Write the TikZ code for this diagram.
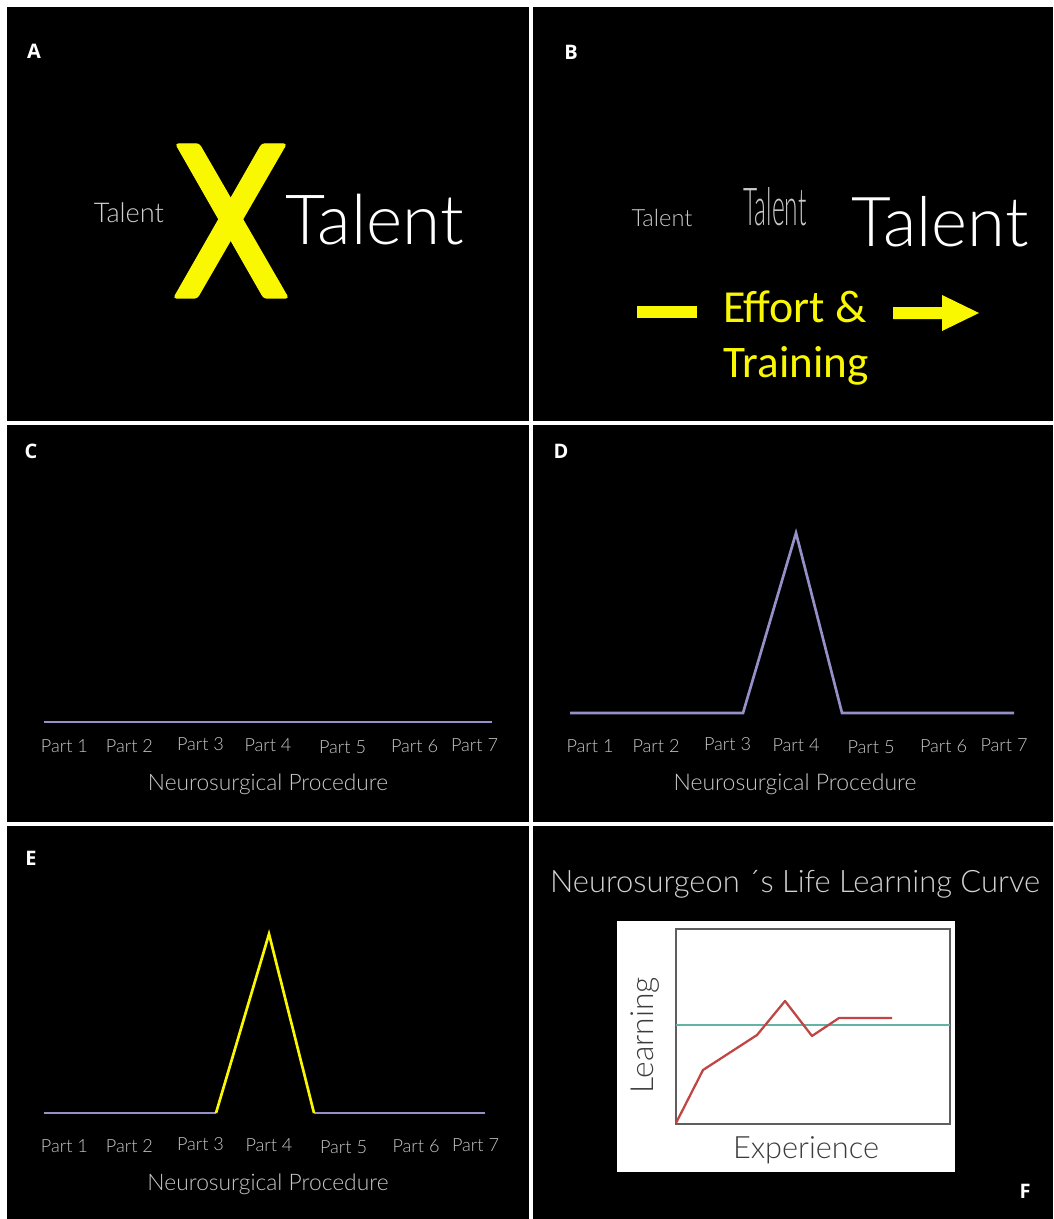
\documentclass[tikz,border=0pt]{standalone}
\usepackage{fontspec}
\usepackage{graphicx}
\setmainfont{Open Sans}
\newfontfamily\thinf{Lato Light}
\newfontfamily\calf{Carlito}
\newlength\pxu
\setlength\pxu{0.75pt}
\newcommand\fw[2]{\resizebox{#1\pxu}{!}{#2}}
\newcommand\fwh[3]{\resizebox{#1\pxu}{#2\pxu}{#3}}
\definecolor{lav}{RGB}{150,144,200}
\definecolor{yel}{RGB}{250,248,0}
\definecolor{partg}{RGB}{200,200,200}
\definecolor{titg}{RGB}{210,210,210}
\definecolor{redc}{RGB}{192,70,70}
\definecolor{tealc}{RGB}{100,180,165}
\definecolor{frameg}{RGB}{95,95,95}
\definecolor{axisg}{RGB}{60,60,60}
\tikzset{
  panelbg/.style={fill=black},
  lbl/.style={text=white, font=\fontsize{15}{17}\selectfont\bfseries, inner sep=0},
  txt/.style={inner sep=0, anchor=base},
  partlbl/.style={txt, text=partg},
  lavline/.style={draw=lav, line width=2pt, line join=miter},
  yelline/.style={draw=yel, line width=2pt, line join=miter},
  yelfill/.style={fill=yel, draw=yel, line width=1pt, rounded corners=2pt},
}
\begin{document}
\begin{tikzpicture}[x=0.75pt,y=-0.75pt]
\fill[white] (0,0) rectangle (1053,1219);
\useasboundingbox (0,0) rectangle (1053,1219);
% panels
\fill[panelbg] (7,7) rectangle (529,421);
\fill[panelbg] (533,7) rectangle (1053,421);
\fill[panelbg] (7,425) rectangle (529,822);
\fill[panelbg] (533,425) rectangle (1053,822);
\fill[panelbg] (7,826) rectangle (529,1219);
\fill[panelbg] (533,826) rectangle (1053,1219);

% ---------- Panel A
\node[lbl] (la) at (34,51) {A};
\node[txt, text=titg] (ta1) at (129,223) {\fw{70}{\thinf Talent}};
\fill[yelfill] (176,144) -- (199,144) -- (288,298) -- (264,298) -- cycle;
\fill[yelfill] (262,144) -- (286,144) -- (197,298) -- (174,298) -- cycle;
\node[txt, text=white] (ta2) at (375,245) {\fw{178}{\thinf Talent}};

% ---------- Panel B
\node[lbl] (lb) at (571,52) {B};
\node[txt, text=partg] (tb1) at (662,227) {\fw{61}{\thinf Talent}};
\node[txt, text=partg] (tb2) at (775,226) {\fwh{63}{38}{\thinf Talent}};
\node[txt, text=white] (tb3) at (940,247) {\fw{177}{\thinf Talent}};
\fill[yel] (637,306) rectangle (697,318);
\node[txt, text=yel] (eff) at (795,322) {\fw{144}{\calf Effort \&}};
\node[txt, text=yel] (trn) at (796,377) {\fw{145}{\calf Training}};
\fill[yel] (893,307) -- (942,307) -- (942,295) -- (979,313) -- (942,331) -- (942,319) -- (893,319) -- cycle;

% ---------- Panel C
\node[lbl] (lc) at (31,451) {C};
\coordinate (c0) at (44,722);
\coordinate (c1) at (492,722);
\draw[lavline] (c0) -- (c1);
\foreach \xc/\dy [count=\i] in {64.5/0,129.5/0,200.5/-1.5,268/-1,342.5/1.5,414.5/0,474.5/-0.5}
  {\node[partlbl] (c-p\i) at (\xc,752+\dy) {\fw{47}{\thinf Part \i}};}
\node[partlbl] (c-np) at (268,790) {\fw{240}{\thinf Neurosurgical Procedure}};

% ---------- Panel D
\node[lbl] (ld) at (561,451) {D};
\coordinate (d0) at (570,713);
\coordinate (d1) at (743,713);
\coordinate (d2) at (796,533);
\coordinate (d3) at (842,713);
\coordinate (d4) at (1014,713);
\draw[lavline] (d0) -- (d1) -- (d2) -- (d3) -- (d4);
\foreach \xc/\dy [count=\i] in {590/0,656/0,727.5/-1.5,796/-1,871/1.5,943.5/0,1004/-0.5}
  {\node[partlbl] (d-p\i) at (\xc,752+\dy) {\fw{47}{\thinf Part \i}};}
\node[partlbl] (d-np) at (795,790) {\fw{243}{\thinf Neurosurgical Procedure}};

% ---------- Panel E
\node[lbl] (le) at (31,858) {E};
\coordinate (e0) at (44,1113);
\coordinate (e1) at (216,1113);
\coordinate (e2) at (269,934);
\coordinate (e3) at (314,1113);
\coordinate (e4) at (485,1113);
\draw[lavline] (e0) -- (e1);
\draw[lavline] (e3) -- (e4);
\draw[yelline] (e1) -- (e2) -- (e3);
\foreach \xc/\dy [count=\i] in {64.5/0,129.5/0,200.5/-1.5,269/-1,343.5/1.5,416/0,475.5/-0.5}
  {\node[partlbl] (e-p\i) at (\xc,1152+\dy) {\fw{47}{\thinf Part \i}};}
\node[partlbl] (e-np) at (268,1190) {\fw{241}{\thinf Neurosurgical Procedure}};

% ---------- Panel F
\node[txt, text=titg] (ftitle) at (795,892) {\fw{490}{\thinf Neurosurgeon ´s Life Learning Curve}};
\fill[white] (617,921) rectangle (955,1172);
\draw[frameg, line width=1.3pt] (676,929) rectangle (950,1124);
\coordinate (t0) at (676,1025);
\coordinate (t1) at (950,1025);
\draw[tealc, line width=2pt] (t0) -- (t1);
\coordinate (r0) at (676,1123);
\coordinate (r1) at (703,1070);
\coordinate (r2) at (757,1035);
\coordinate (r3) at (785,1001);
\coordinate (r4) at (812,1036);
\coordinate (r5) at (839,1018);
\coordinate (r6) at (892,1018);
\draw[redc, line width=1.7pt, line join=round] (r0) -- (r1) -- (r2) -- (r3) -- (r4) -- (r5) -- (r6);
\node[txt, text=axisg, rotate=90] (flearn) at (653,1035) {\fw{116}{\thinf Learning}};
\node[txt, text=axisg] (fexp) at (806,1158) {\fw{146}{\thinf Experience}};
\node[lbl] (lf) at (1025,1191.5) {F};
\end{tikzpicture}
\end{document}
